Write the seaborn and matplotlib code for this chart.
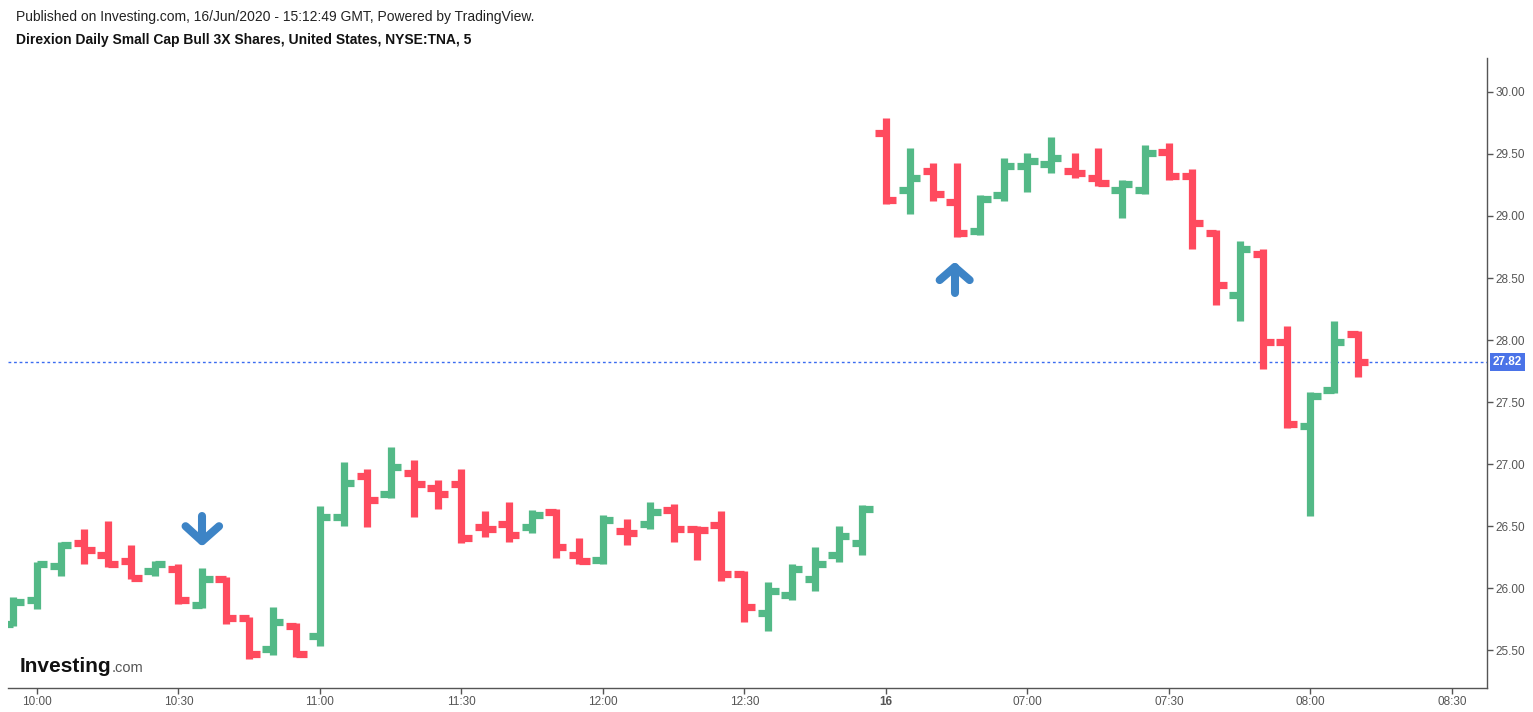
#!/usr/bin/python3

# libraries
import matplotlib
matplotlib.use('Agg')

import matplotlib.pyplot as plt
import matplotlib.transforms as mtransforms
import numpy as np
import pandas as pd
import seaborn as sns

# ------------------------------------------------------------
#     Data  (TNA, 5 minute bars, two sessions)
# ------------------------------------------------------------

session_1 = pd.date_range("2020-06-15 09:55", "2020-06-15 12:55", freq="5min")
session_2 = pd.date_range("2020-06-16 06:30", "2020-06-16 08:10", freq="5min")
bar_times = list(session_1) + list(session_2)

opens = [
    25.71, 25.90, 26.18, 26.36, 26.27, 26.22, 26.14, 26.15, 25.86, 26.07,
    25.76, 25.51, 25.69, 25.61, 26.57, 26.90, 26.76, 26.93, 26.81, 26.84,
    26.49, 26.52, 26.49, 26.61, 26.27, 26.23, 26.46, 26.52, 26.63, 26.48,
    26.51, 26.11, 25.80, 25.94, 26.07, 26.27, 26.36,
    29.67, 29.21, 29.36, 29.11, 28.88, 29.17, 29.40, 29.42, 29.36, 29.31,
    29.21, 29.21, 29.52, 29.32, 28.86, 28.36, 28.69, 27.98, 27.31, 27.60,
    28.05,
]
highs = [
    25.93, 26.21, 26.37, 26.48, 26.54, 26.35, 26.22, 26.19, 26.16, 26.09,
    25.77, 25.85, 25.72, 26.66, 27.02, 26.96, 27.14, 27.03, 26.87, 26.96,
    26.62, 26.69, 26.63, 26.64, 26.40, 26.59, 26.56, 26.69, 26.68, 26.50,
    26.62, 26.14, 26.05, 26.19, 26.33, 26.50, 26.67,
    29.79, 29.55, 29.43, 29.43, 29.17, 29.47, 29.51, 29.64, 29.51, 29.55,
    29.29, 29.57, 29.59, 29.38, 28.89, 28.80, 28.73, 28.11, 27.58, 28.15,
    28.07,
]
lows = [
    25.69, 25.83, 26.10, 26.19, 26.17, 26.07, 26.10, 25.87, 25.84, 25.71,
    25.43, 25.46, 25.44, 25.53, 26.50, 26.49, 26.73, 26.57, 26.64, 26.36,
    26.41, 26.37, 26.44, 26.24, 26.19, 26.19, 26.35, 26.48, 26.37, 26.23,
    26.06, 25.73, 25.65, 25.90, 25.98, 26.21, 26.27,
    29.10, 29.02, 29.12, 28.83, 28.85, 29.12, 29.19, 29.35, 29.31, 29.24,
    28.98, 29.18, 29.29, 28.73, 28.28, 28.15, 27.77, 27.29, 26.58, 27.57,
    27.70,
]
closes = [
    25.89, 26.19, 26.35, 26.31, 26.19, 26.08, 26.19, 25.90, 26.07, 25.76,
    25.47, 25.73, 25.47, 26.57, 26.85, 26.71, 26.98, 26.84, 26.76, 26.40,
    26.48, 26.43, 26.59, 26.33, 26.22, 26.55, 26.44, 26.61, 26.48, 26.47,
    26.11, 25.85, 25.98, 26.15, 26.19, 26.42, 26.64,
    29.13, 29.31, 29.18, 28.86, 29.14, 29.40, 29.44, 29.47, 29.35, 29.27,
    29.26, 29.51, 29.32, 28.94, 28.44, 28.73, 27.98, 27.32, 27.55, 27.98,
    27.82,
]

tick_times = [
    "2020-06-15 10:00", "2020-06-15 10:30", "2020-06-15 11:00", "2020-06-15 11:30",
    "2020-06-15 12:00", "2020-06-15 12:30", "2020-06-16 06:30", "2020-06-16 07:00",
    "2020-06-16 07:30", "2020-06-16 08:00", "2020-06-16 08:30",
]
tick_labels = ["10:00", "10:30", "11:00", "11:30", "12:00", "12:30", "16",
               "07:00", "07:30", "08:00", "08:30"]
price_ticks = [25.5, 26.0, 26.5, 27.0, 27.5, 28.0, 28.5, 29.0, 29.5, 30.0]

last_price = 27.82
arrow_down_time = "2020-06-15 10:35"
arrow_up_time = "2020-06-16 06:45"

# ------------------------------------------------------------
#     Settings
# ------------------------------------------------------------

col_up = "#53b987"
col_down = "#ff4a5e"
col_axis = "#555555"
col_marker = "#3d84c6"
tick_w = 0.445

def bar_pos(t):
    # Bars are placed on a gap-less index, like TradingView does.
    t = pd.Timestamp(t)
    if t in bar_times:
        return bar_times.index(t)
    return len(bar_times) - 1 + (t - bar_times[-1]) / pd.Timedelta("5min")

# ------------------------------------------------------------
#     Build segments (high-low stroke plus open / close ticks)
# ------------------------------------------------------------

rows = []
seg = 0
for i in range(len(opens)):
    d = "up" if closes[i] >= opens[i] else "down"
    for xs, ys in (
        ((i, i), (lows[i], highs[i])),
        ((i - tick_w, i), (opens[i], opens[i])),
        ((i, i + tick_w), (closes[i], closes[i])),
    ):
        for x, y in zip(xs, ys):
            rows.append({"seg": seg, "x": x, "price": y, "dir": d})
        seg += 1
seg_df = pd.DataFrame(rows)

# ------------------------------------------------------------
#     Plot
# ------------------------------------------------------------

sns.set_style("white")
plt.rcParams['font.family'] = ['Liberation Sans', 'DejaVu Sans']

fig = plt.figure(figsize=(15.33, 7.12), dpi=100)
ax = fig.add_axes([8 / 1533, 1 - 688 / 712, (1487 - 8) / 1533, (688 - 58) / 712])

sns.lineplot(
    data=seg_df, x="x", y="price", units="seg", estimator=None, hue="dir",
    palette={"up": col_up, "down": col_down}, sort=False, legend=False,
    linewidth=5.2, ax=ax
)
for l in ax.lines:
    l.set_solid_capstyle("butt")

# last price line and label
ax.axhline(last_price, color="#3b6cf0", lw=1, ls=(0, (2, 2)), zorder=1)
ax.annotate(
    f"{last_price:.2f}", xy=(1.0, last_price), xycoords=("axes fraction", "data"),
    xytext=(4, 0), textcoords="offset points", va="center", ha="left",
    color="white", fontsize=8.5, fontweight="bold",
    bbox=dict(boxstyle="square,pad=0.25", fc="#4a73e8", ec="none")
)

# signal arrows, sized in inches around the bar they point to
def draw_arrow(t, y, pts):
    trans = fig.dpi_scale_trans + mtransforms.ScaledTranslation(bar_pos(t), y, ax.transData)
    for xs, ys in pts:
        ax.plot(xs, ys, transform=trans, color=col_marker, lw=5.8,
                solid_capstyle="round", solid_joinstyle="round", clip_on=False)

ti = bar_pos(arrow_down_time)
draw_arrow(arrow_down_time, highs[ti], [
    ((0, 0), (0.52, 0.27)),
    ((-0.165, 0, 0.17), (0.42, 0.27, 0.42)),
])
ti = bar_pos(arrow_up_time)
draw_arrow(arrow_up_time, lows[ti], [
    ((-0.02, -0.02), (-0.56, -0.30)),
    ((-0.17, -0.02, 0.13), (-0.43, -0.30, -0.43)),
])

# axes
ax.set_xlim(-0.23, 62.49)
ax.set_ylim(25.194, 30.274)
ax.set_xlabel("")
ax.set_ylabel("")
ax.yaxis.tick_right()
ax.set_yticks(price_ticks)
ax.set_yticklabels([f"{v:.2f}" for v in price_ticks])
ax.set_xticks([bar_pos(t) for t in tick_times])
ax.set_xticklabels(tick_labels)
for lab in ax.get_xticklabels():
    if lab.get_text() == "16":
        lab.set_fontweight("bold")
ax.tick_params(axis="both", length=4, width=1, color=col_axis, labelcolor=col_axis,
               labelsize=8.5, direction="out", pad=2)
ax.tick_params(axis="x", bottom=True)
ax.tick_params(axis="y", right=True, left=False)
for side in ["left", "top"]:
    ax.spines[side].set_visible(False)
for side in ["right", "bottom"]:
    ax.spines[side].set_color(col_axis)
    ax.spines[side].set_linewidth(1)

# header texts
fig.text(16 / 1533, 1 - 17 / 712,
         "Published on Investing.com, 16/Jun/2020 - 15:12:49 GMT, Powered by TradingView.",
         fontsize=10, color="#222222", va="center", ha="left")
fig.text(16 / 1533, 1 - 40 / 712,
         "Direxion Daily Small Cap Bull 3X Shares, United States, NYSE:TNA, 5",
         fontsize=10, fontweight="bold", color="#111111", va="center", ha="left")

# watermark
fig.text(20 / 1533, 1 - 666 / 712, "Investing", fontsize=15, fontweight="bold",
         color="#111111", va="center", ha="left")
fig.text(112 / 1533, 1 - 668 / 712, ".com", fontsize=10.5, color="#555555",
         va="center", ha="left")

fig.savefig("out.png", dpi=100)
